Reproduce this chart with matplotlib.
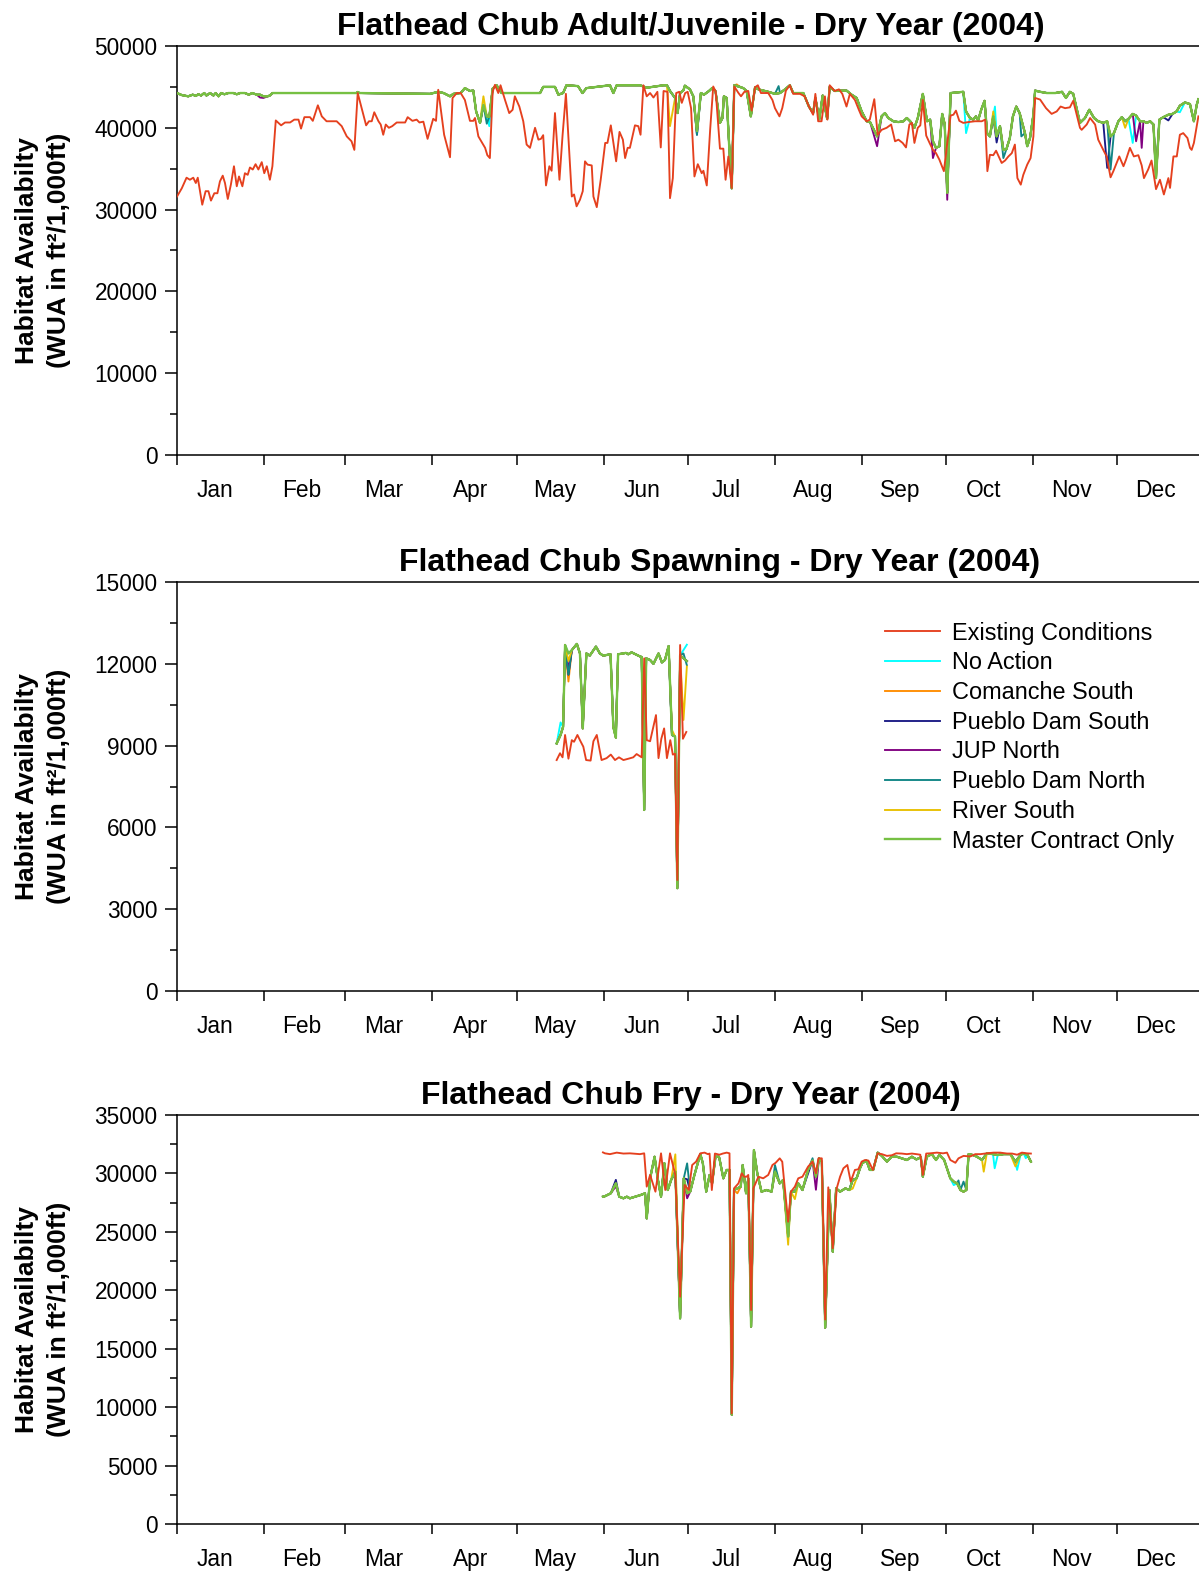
import numpy as np
import matplotlib
matplotlib.use("Agg")
import matplotlib.pyplot as plt
from matplotlib.ticker import FixedLocator, MultipleLocator, FuncFormatter, NullFormatter

plt.rcParams['font.family'] = ['Liberation Sans', 'DejaVu Sans']

# ---------------- data ----------------
series_names = ["Existing Conditions", "No Action", "Comanche South", "Pueblo Dam South",
                "JUP North", "Pueblo Dam North", "River South", "Master Contract Only"]
series_colors = ["#E5401E", "#00FFFF", "#FF8C00", "#1A1A85", "#800080", "#108585", "#E8C000", "#76C043"]

month_names = ["Jan", "Feb", "Mar", "Apr", "May", "Jun", "Jul", "Aug", "Sep", "Oct", "Nov", "Dec"]
month_starts = [0, 31, 60, 91, 121, 152, 182, 213, 244, 274, 305, 335]

titles = ["Flathead Chub Adult/Juvenile - Dry Year (2004)",
          "Flathead Chub Spawning - Dry Year (2004)",
          "Flathead Chub Fry - Dry Year (2004)"]

# ---- Adult/Juvenile: Existing Conditions (day of year, WUA) ----
adult_ec_days = [0, 1.7, 3.4, 4.6, 5.8, 6.7, 7.4, 9.0, 10.2, 11.2, 12.1, 13.3, 14.4, 15.3, 16.3, 17.1, 18.1, 19.2,
                 20.3, 21.3, 22.1, 23.3, 24.2, 25.2, 26.0, 27.0, 28.0, 29.0, 30.2, 31.1, 32.0, 33.1, 34.0, 35.2,
                 37.1, 38.5, 40.3, 41.8, 43.3, 44.2, 45.4, 47.4, 48.4, 50.2, 51.6, 53.3, 56.9, 58.7, 60.5, 62.2,
                 63.2, 64.4, 65.8, 67.4, 68.4, 69.4, 70.3, 71.8, 72.6, 73.5, 74.4, 75.5, 76.7, 78.3, 81.3, 82.2,
                 83.9, 85.4, 86.4, 87.8, 89.3, 91.3, 92.3, 93.1, 95.2, 97.3, 98.2, 99.7, 101.1, 102.6, 104.4, 105.6,
                 106.2, 107.4, 109.8, 110.6, 111.5, 112.5, 113.3, 114.5, 115.3, 116.9, 118.4, 119.6, 120.4, 122.0,
                 123.4, 124.6, 125.8, 127.6, 128.8, 129.7, 130.5, 131.5, 132.7, 133.5, 134.7, 136.3, 137.4, 138.6,
                 140.7, 141.5, 142.4, 143.6, 144.6, 145.4, 146.3, 147.8, 148.4, 149.6, 151.0, 152.6, 153.4, 154.6,
                 156.5, 157.7, 158.9, 159.7, 160.6, 161.4, 163.2, 164.4, 165.2, 166.2, 167.4, 168.6, 169.8, 171.2,
                 172.4, 173.4, 174.8, 175.7, 176.7, 177.9, 179.0, 179.9, 181.1, 182.0, 183.2, 184.4, 185.6, 187.0,
                 187.6, 188.8, 190.0, 191.1, 192.0, 193.5, 194.7, 195.5, 196.5, 197.7, 198.6, 200.1, 201.0, 202.2,
                 203.6, 204.8, 206.0, 207.0, 208.1, 210.7, 212.2, 213.1, 214.7, 215.7, 217.0, 218.4, 219.6, 222.0,
                 223.7, 225.2, 226.7, 227.5, 228.5, 229.7, 230.9, 231.8, 232.6, 234.4, 235.9, 237.1, 238.6, 239.8,
                 241.6, 243.0, 244.0, 245.8, 246.9, 248.5, 249.7, 251.1, 252.9, 254.5, 255.9, 257.1, 258.6, 259.8,
                 261.0, 261.9, 262.8, 264.0, 264.9, 265.8, 267.0, 268.2, 269.4, 270.5, 271.7, 273.3, 275.7, 276.7,
                 277.6, 278.8, 280.2, 282.0, 284.4, 286.8, 288.0, 288.8, 289.7, 290.9, 291.9, 293.1, 293.9, 295.1,
                 296.3, 297.5, 298.6, 299.5, 300.7, 301.6, 303.0, 304.2, 305.2, 305.8, 307.6, 309.7, 311.7, 313.5,
                 314.9, 316.5, 318.2, 319.4, 321.8, 322.4, 324.2, 325.4, 327.2, 328.3, 330.1, 331.3, 332.7, 333.7,
                 335.8, 337.3, 338.2, 339.6, 341.0, 342.6, 343.8, 344.6, 346.1, 347.3, 348.9, 350.3, 351.7, 353.3,
                 353.9, 355.1, 356.3, 357.4, 358.6, 360.1, 361.0, 361.6, 362.4, 364.0]
adult_ec_vals = [31600, 32600, 33900, 33650, 33900, 33250, 33900, 30600, 32250, 32250, 31100, 32000, 32000, 33450,
                 34150, 33250, 31300, 33050, 35300, 32850, 34050, 32850, 34450, 34250, 35150, 34900, 35550, 34900,
                 35800, 34450, 35300, 33650, 35300, 40900, 40300, 40650, 40650, 41000, 41000, 39900, 41300, 41300,
                 40850, 42750, 41400, 40800, 40800, 40200, 38950, 38350, 37300, 44250, 42400, 40300, 40800, 40800,
                 41900, 40800, 40400, 39150, 40400, 40000, 40200, 40650, 40650, 41300, 40850, 41000, 40650, 40750,
                 38650, 41100, 40850, 44650, 39150, 36400, 43650, 44250, 44250, 43400, 40850, 40850, 41200, 38950,
                 37550, 36650, 36300, 44400, 45250, 44250, 45200, 43400, 41800, 42200, 43850, 42600, 40800, 37950,
                 37550, 40000, 38550, 38650, 39100, 32950, 35300, 34750, 41800, 33650, 39050, 44150, 31600, 31850,
                 30400, 31200, 32250, 35900, 35500, 35400, 31600, 30300, 33650, 38150, 38150, 40300, 35900, 39500,
                 38550, 36300, 37550, 37550, 40300, 40200, 39150, 45200, 43850, 44250, 43700, 44400, 37600, 44500,
                 44400, 31400, 33850, 44250, 44400, 43050, 44250, 44400, 42400, 34050, 35550, 34450, 34750, 32950,
                 39750, 45050, 44400, 37450, 37450, 33650, 36500, 32650, 45050, 44250, 43850, 44400, 44500, 42100,
                 44950, 45200, 44250, 44250, 43400, 42400, 41400, 42400, 44550, 45200, 44150, 44150, 43850, 42600,
                 41600, 44150, 40800, 40800, 43850, 41000, 45200, 44500, 44700, 44150, 42600, 44150, 43400, 42200,
                 41400, 40800, 41000, 43500, 39150, 39750, 40000, 40400, 38350, 38550, 38150, 37600, 40400, 40600,
                 38150, 40000, 40300, 43400, 39050, 38150, 37300, 36900, 36100, 34700, 41500, 41600, 42100, 40850,
                 40600, 40700, 40800, 40800, 41000, 34700, 36700, 36650, 37200, 36300, 35700, 36000, 36500, 36900,
                 37950, 33850, 33050, 34250, 35500, 36300, 38950, 43650, 43450, 42400, 41700, 42000, 42600, 42400,
                 42500, 43300, 40000, 39750, 40400, 41200, 40400, 38550, 37300, 36500, 33950, 34700, 36500, 35300,
                 36100, 37550, 36500, 36650, 35400, 33850, 34900, 36000, 32500, 33650, 31850, 33850, 32650, 36500,
                 36500, 39150, 39350, 38750, 37550, 37300, 38150, 41400]

# ---- Adult/Juvenile: Master Contract Only ----
adult_mc_days = [0, 1.7, 4.0, 5.6, 6.7, 7.6, 8.6, 9.7, 10.5, 11.8, 13.0, 13.8, 14.8, 15.7, 16.9, 18.3, 20.1, 21.3,
                 22.5, 24.2, 25.6, 26.8, 28.4, 29.6, 30.8, 32.3, 33.1, 34.0, 64.0, 64.4, 65.0, 90.2, 93.1, 95.0,
                 97.3, 98.5, 101.1, 102.6, 104.4, 105.6, 106.6, 108.0, 109.2, 110.4, 111.3, 112.5, 113.9, 115.7,
                 129.4, 130.5, 134.7, 135.9, 137.6, 138.8, 142.9, 144.5, 145.9, 154.3, 155.5, 156.7, 165.0, 167.4,
                 173.4, 174.6, 175.7, 177.5, 178.4, 179.3, 180.5, 181.0, 182.8, 184.0, 185.3, 186.7, 187.8, 189.6,
                 190.7, 191.9, 193.5, 194.4, 194.9, 195.9, 196.7, 197.7, 198.6, 200.6, 201.8, 203.0, 204.5, 206.0,
                 207.2, 210.7, 213.1, 214.9, 216.7, 218.4, 219.6, 223.2, 225.2, 226.7, 227.5, 228.9, 230.1, 231.7,
                 232.6, 234.4, 236.8, 238.6, 240.4, 242.2, 244.0, 245.8, 247.0, 249.5, 251.1, 252.3, 253.5, 255.3,
                 257.1, 258.9, 260.1, 261.3, 262.8, 264.0, 265.8, 267.3, 268.4, 269.4, 270.5, 271.7, 272.7, 273.6,
                 274.5, 275.7, 280.2, 281.2, 282.6, 283.8, 284.7, 285.5, 286.6, 287.8, 288.7, 289.7, 290.9, 292.1,
                 293.3, 294.5, 295.6, 296.8, 297.9, 299.1, 300.3, 302.2, 303.0, 304.0, 305.2, 305.8, 307.6, 310.0,
                 313.0, 315.4, 316.8, 318.2, 319.4, 321.8, 323.6, 325.1, 326.8, 328.3, 330.1, 331.5, 332.7, 333.9,
                 335.5, 336.7, 337.9, 339.1, 340.6, 341.8, 343.2, 344.4, 345.6, 346.8, 348.0, 348.9, 350.1, 351.5,
                 353.3, 354.8, 356.2, 357.4, 359.2, 361.0, 362.4, 363.4, 364.0]
adult_mc_vals = [44250, 44000, 43850, 44050, 43900, 44100, 43950, 44250, 43950, 44250, 43950, 44250, 43850, 44250,
                 44100, 44250, 44250, 44100, 44250, 44250, 44050, 44250, 44050, 44050, 43850, 43850, 43950, 44250,
                 44250, 44380, 44250, 44150, 44400, 44250, 43850, 44150, 44250, 44850, 44500, 44550, 42000, 40600,
                 42800, 41400, 41350, 44800, 45200, 44250, 44250, 45000, 45000, 44050, 44250, 45200, 45100, 44250,
                 44850, 45200, 44250, 45200, 45200, 44900, 45200, 45200, 44500, 43650, 41800, 44250, 44600, 45150,
                 44700, 43850, 39600, 44250, 44050, 44500, 44850, 44500, 40600, 41200, 43850, 43650, 38350, 32600,
                 45200, 45000, 44850, 44500, 41400, 44950, 44700, 44400, 44150, 44250, 44700, 45200, 44250, 44250,
                 42600, 41800, 43650, 41050, 43950, 41100, 45000, 44500, 44550, 44550, 44050, 43650, 42000, 40800,
                 40700, 38950, 41400, 41800, 41200, 40800, 40700, 40800, 41200, 40800, 40000, 41200, 44150, 40800,
                 41000, 38350, 37550, 37750, 41700, 40400, 32050, 44250, 44400, 42000, 41200, 41000, 41400, 40900,
                 42200, 43300, 39350, 38950, 41400, 38950, 40200, 37300, 37400, 38750, 41400, 42600, 41800, 39350,
                 37750, 38750, 41600, 44550, 44400, 44250, 44250, 44400, 43650, 44400, 44150, 40600, 41200, 42200,
                 41200, 40800, 40600, 40800, 38950, 39350, 40800, 41300, 40800, 41100, 41700, 41500, 40800, 40800,
                 40600, 40800, 40400, 33850, 41000, 41300, 41600, 41700, 42000, 42700, 43100, 42900, 40800, 42800,
                 43500]

# ---- Adult/Juvenile: points where other alternatives depart from Master Contract Only ----
adult_na_days, adult_na_vals = [111.0, 281.4, 291.5, 299.3, 340.4, 357.5], [40200, 39350, 42600, 42500, 38150, 41900]
adult_cs_days, adult_cs_vals = [199.5, 273.6], [45300, 40600]
adult_pds_days, adult_pds_vals = [185.3, 292.5, 331.9, 349.1, 353.0], [39150, 38200, 35100, 34300, 40900]
adult_jup_days, adult_jup_vals = [29.6, 30.8, 249.7, 269.8, 274.5, 341.4, 343.8], [43700, 43650, 37750, 36300, 31200, 38350, 37550]
adult_pdn_days, adult_pdn_vals = [110.4, 185.3, 214.4, 294.5, 300.9, 332.7, 349.1], [40500, 39150, 45100, 36300, 38950, 34900, 34500]
adult_rs_days, adult_rs_vals = [109.2, 175.7, 290.9, 338.0], [43850, 40200, 42000, 40000]

# ---- Spawning ----
spawn_ec_days = [135.3, 136.5, 137.4, 138.3, 139.5, 140.7, 141.5, 142.7, 143.6, 144.8, 145.8, 147.4, 148.4, 149.6,
                 151.3, 153.1, 154.6, 156.1, 157.5, 159.1, 160.9, 162.6, 163.8, 165.6, 166.5, 167.4, 168.6, 170.7,
                 171.6, 172.6, 173.6, 174.6, 175.8, 176.7, 177.5, 178.3, 179.3, 180.3, 181.5]
spawn_ec_vals = [8470, 8720, 8570, 9390, 8520, 9200, 9140, 9390, 9200, 8960, 8470, 8450, 9160, 9390, 8470, 8540,
                 8670, 8470, 8570, 8470, 8520, 8570, 8690, 8570, 12200, 9200, 9160, 10120, 8540, 9250, 9630, 8540,
                 9200, 8670, 8700, 4070, 12690, 9250, 9500]
spawn_mc_days = [135.3, 136.7, 137.6, 138.3, 139.5, 140.7, 142.5, 143.6, 144.6, 145.9, 147.1, 149.3, 150.7, 151.9,
                 154.5, 155.5, 156.4, 157.2, 159.0, 160.0, 160.8, 162.0, 163.8, 165.0, 165.6, 166.5, 167.2, 168.6,
                 169.8, 171.6, 172.8, 173.9, 175.2, 176.4, 177.5, 178.3, 179.3, 181.7]
spawn_mc_vals = [9080, 9390, 9690, 12690, 12380, 12500, 12730, 12380, 9630, 12380, 12300, 12630, 12380, 12300,
                 12350, 9680, 9290, 12350, 12380, 12400, 12350, 12420, 12330, 12270, 12250, 6640, 12200, 12140,
                 12000, 12380, 12050, 12140, 12650, 9390, 9330, 3770, 12310, 12100]
spawn_na_days, spawn_na_vals = [137.0, 181.7], [9850, 12700]
spawn_cs_days, spawn_cs_vals = [139.5], [11350]
spawn_pds_days, spawn_pds_vals = [139.5, 156.4], [11600, 9400]
spawn_jup_days, spawn_jup_vals = [139.5], [11800]
spawn_pdn_days, spawn_pdn_vals = [139.5, 144.6, 180.5, 181.7], [11600, 9700, 12380, 11950]
spawn_rs_days, spawn_rs_vals = [139.5, 176.4, 180.5, 181.7], [12100, 9570, 9940, 11900]

# ---- Fry ----
fry_ec_days = [151.8, 152.5, 154.3, 156.7, 159.1, 161.4, 165.0, 166.5, 167.4, 168.6, 170.5, 172.5, 174.0, 175.7,
               177.6, 179.3, 180.9, 182.4, 183.6, 185.0, 186.5, 188.0, 189.2, 189.8, 190.6, 191.7, 193.3, 194.5,
               195.9, 196.9, 197.7, 198.5, 200.1, 201.3, 202.1, 203.0, 203.6, 204.6, 205.4, 207.2, 208.9, 210.7,
               212.2, 213.3, 214.8, 215.7, 216.5, 217.8, 218.8, 220.2, 221.4, 222.9, 224.9, 226.5, 227.7, 228.6,
               229.8, 231.0, 232.1, 233.7, 235.1, 236.3, 237.5, 238.9, 240.1, 241.6, 242.8, 244.0, 245.2, 246.4,
               248.0, 249.7, 251.2, 253.0, 254.7, 256.3, 258.3, 260.1, 261.9, 263.5, 264.9, 265.8, 267.0, 268.4,
               270.8, 273.0, 274.4, 275.6, 277.4, 278.5, 280.3, 282.7, 284.5, 286.3, 288.6, 291.0, 293.4, 295.8,
               297.6, 299.4, 301.1, 302.9, 304.3]
fry_ec_vals = [31800, 31720, 31650, 31780, 31700, 31720, 31650, 31720, 28870, 29870, 28440, 31720, 28580, 31720,
               29870, 19450, 29010, 28580, 30720, 31010, 31720, 31780, 31650, 31700, 28580, 31700, 31600, 31700,
               31780, 31720, 9470, 28720, 29150, 30010, 29720, 29720, 29870, 18310, 28720, 29720, 29580, 29870,
               30720, 30900, 31290, 31000, 29000, 25870, 28440, 28870, 29580, 29720, 30580, 31010, 30010, 31290,
               31290, 17500, 28810, 23600, 28720, 29720, 30440, 30720, 29300, 30300, 30350, 31010, 31150, 31100,
               30300, 31720, 31650, 31500, 31550, 31720, 31700, 31650, 31700, 31650, 31600, 29870, 31700, 31720,
               31780, 31720, 31780, 31150, 30910, 31290, 31500, 31450, 31650, 31650, 31720, 31780, 31780, 31700,
               31700, 31600, 31780, 31720, 31700]
fry_mc_days = [151.8, 152.5, 154.6, 156.4, 157.6, 159.1, 160.3, 161.4, 165.2, 166.8, 167.4, 168.6, 170.2, 171.3,
               172.5, 173.7, 174.9, 176.1, 177.6, 179.3, 180.6, 181.8, 182.9, 184.4, 186.5, 187.4, 188.6, 189.8,
               190.7, 191.9, 193.1, 193.3, 194.7, 195.9, 196.9, 197.7, 198.5, 199.7, 200.9, 201.6, 202.8, 203.6,
               204.6, 205.6, 206.8, 208.3, 210.1, 211.9, 213.1, 214.8, 216.0, 217.8, 218.8, 220.2, 221.4, 222.9,
               224.9, 226.5, 227.7, 228.8, 229.8, 231.0, 232.5, 233.7, 234.9, 236.3, 238.2, 239.6, 240.8, 242.2,
               243.4, 244.2, 245.7, 246.9, 248.1, 249.7, 251.2, 253.0, 254.7, 256.5, 258.3, 260.1, 261.9, 263.5,
               265.1, 265.8, 267.2, 269.0, 270.5, 271.7, 273.4, 275.6, 276.8, 278.0, 279.2, 280.3, 281.3, 282.1,
               283.6, 285.1, 286.9, 288.6, 290.8, 292.5, 294.6, 297.0, 298.8, 300.6, 301.7, 303.1, 304.3]
fry_mc_vals = [28010, 28050, 28300, 29150, 28010, 27870, 28010, 27870, 28150, 28300, 26150, 29580, 31430, 29580,
               28010, 30870, 28580, 29440, 30150, 17600, 29580, 28300, 28440, 29870, 31650, 30870, 28440, 29870,
               29150, 31430, 31430, 31290, 29580, 30300, 30300, 9350, 28580, 28720, 28870, 30720, 28300, 29580,
               16890, 32000, 30010, 28440, 28580, 28440, 30150, 29150, 29440, 24590, 28440, 28440, 29150, 28580,
               30300, 31100, 29720, 31290, 31000, 16800, 28580, 23300, 28720, 28440, 28720, 28580, 29440, 29580,
               30440, 30870, 31100, 30300, 30300, 31780, 31500, 31010, 31430, 31430, 31290, 31150, 31430, 31200,
               31380, 29720, 31430, 31650, 31150, 31580, 31150, 29580, 29300, 29150, 28580, 28440, 28580, 31650,
               31580, 31430, 31150, 31720, 31650, 31580, 31650, 31650, 31010, 31580, 31720, 31580, 31010]
fry_na_days, fry_na_vals = [277.0, 291.4, 299.4, 302.5], [29000, 30440, 30300, 31300]
fry_cs_days, fry_cs_vals = [200.1], [28300]
fry_pds_days, fry_pds_vals = [156.4, 181.9, 225.3], [29450, 29500, 30000]
fry_jup_days, fry_jup_vals = [156.4, 182.1, 227.7], [28900, 27870, 28600]
fry_pdn_days, fry_pdn_vals = [181.9, 213.1, 226.5, 278.5, 280.3], [30860, 30720, 31300, 29400, 29300]
fry_rs_days, fry_rs_vals = [177.5, 217.8, 220.2, 241.1, 287.5, 299.0], [31630, 23900, 27800, 28700, 30150, 30600]

y_limits = [50000, 15000, 35000]
y_major = [10000, 3000, 5000]


def merge(base_d, base_v, ov_d, ov_v):
    d = list(base_d)
    v = list(base_v)
    for od, ovv in zip(ov_d, ov_v):
        arr = np.array(d)
        i = int(np.argmin(np.abs(arr - od)))
        if abs(arr[i] - od) < 0.5:
            v[i] = ovv
        else:
            d.append(od)
            v.append(ovv)
    order = np.argsort(d)
    return np.array(d)[order], np.array(v)[order]


panels = [
    (adult_ec_days, adult_ec_vals, adult_mc_days, adult_mc_vals,
     [(adult_na_days, adult_na_vals), (adult_cs_days, adult_cs_vals), (adult_pds_days, adult_pds_vals),
      (adult_jup_days, adult_jup_vals), (adult_pdn_days, adult_pdn_vals), (adult_rs_days, adult_rs_vals)]),
    (spawn_ec_days, spawn_ec_vals, spawn_mc_days, spawn_mc_vals,
     [(spawn_na_days, spawn_na_vals), (spawn_cs_days, spawn_cs_vals), (spawn_pds_days, spawn_pds_vals),
      (spawn_jup_days, spawn_jup_vals), (spawn_pdn_days, spawn_pdn_vals), (spawn_rs_days, spawn_rs_vals)]),
    (fry_ec_days, fry_ec_vals, fry_mc_days, fry_mc_vals,
     [(fry_na_days, fry_na_vals), (fry_cs_days, fry_cs_vals), (fry_pds_days, fry_pds_vals),
      (fry_jup_days, fry_jup_vals), (fry_pdn_days, fry_pdn_vals), (fry_rs_days, fry_rs_vals)]),
]

# ---------------- figure ----------------
W, H = 1199, 1571
fig = plt.figure(figsize=(W / 100, H / 100), dpi=100)

ax_left = 177 / W
ax_width = (1204 - 177) / W
bottoms_px = [455, 991, 1524]
tops_px = [46, 582, 1115]
title_x = [0.5, 0.528, 0.5]

label_pos = [s + 13.6 for s in month_starts]

for k, (ec_d, ec_v, mc_d, mc_v, overrides) in enumerate(panels):
    b = bottoms_px[k]
    t = tops_px[k]
    ax = fig.add_axes([ax_left, (H - b) / H, ax_width, (b - t) / H])

    lines = {}
    for j, (od, ov) in enumerate(overrides):
        dd, vv = merge(mc_d, mc_v, od, ov)
        ln, = ax.plot(dd, vv, color=series_colors[j + 1], lw=1.35, zorder=2 + j)
        lines[series_names[j + 1]] = ln
    ln, = ax.plot(mc_d, mc_v, color=series_colors[7], lw=1.7, zorder=10)
    lines[series_names[7]] = ln
    ln, = ax.plot(ec_d, ec_v, color=series_colors[0], lw=1.35, zorder=11)
    lines[series_names[0]] = ln

    ax.set_xlim(0, 366)
    ax.set_ylim(0, y_limits[k])

    ax.xaxis.set_major_locator(FixedLocator(month_starts))
    ax.xaxis.set_major_formatter(NullFormatter())
    ax.xaxis.set_minor_locator(FixedLocator(label_pos))
    ax.set_xticklabels(month_names, minor=True)
    ax.tick_params(axis='x', which='major', direction='out', length=7, width=1.1)
    ax.tick_params(axis='x', which='minor', length=0, pad=17, labelsize=16.4)

    ax.yaxis.set_major_locator(MultipleLocator(y_major[k]))
    ax.yaxis.set_minor_locator(MultipleLocator(y_major[k] / 2))
    ax.yaxis.set_major_formatter(FuncFormatter(lambda v, p: f"{int(round(v))}"))
    ax.tick_params(axis='y', which='major', direction='out', length=9, width=1.1, labelsize=16.3, pad=5)
    ax.tick_params(axis='y', which='minor', direction='out', length=5, width=1.1)

    for s in ['left', 'bottom', 'top']:
        ax.spines[s].set_linewidth(1.1)
    ax.spines['right'].set_visible(False)

    ax.set_title(titles[k], fontsize=23, fontweight='bold', x=title_x[k], pad=8)

    yc = 1 - ((t + b) / 2) / H
    fig.text(43 / W, yc, "Habitat Availabilty\n(WUA in ft\u00b2/1,000ft)", rotation=90,
             ha='center', va='center', multialignment='center', fontsize=19, fontweight='bold',
             linespacing=1.4)

    if k == 1:
        handles = [lines[n] for n in series_names]
        ax.legend(handles, series_names, loc='upper left', bbox_to_anchor=(0.689, 0.903),
                  frameon=False, fontsize=16.9, handlelength=2.34, handletextpad=0.55,
                  labelspacing=0.285, borderpad=0, borderaxespad=0)

fig.savefig("out.png", dpi=100)
